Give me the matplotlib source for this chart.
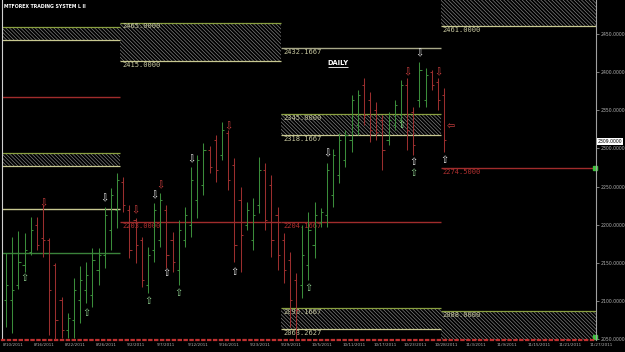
import matplotlib
matplotlib.use("Agg")
import matplotlib.pyplot as plt
from matplotlib.patches import Rectangle

# daily bars
highs = [2163, 2184, 2192, 2189, 2210, 2210, 2226, 2182, 2150, 2105,
         2084, 2130, 2146, 2151, 2169, 2169, 2223, 2248, 2268, 2262,
         2226, 2209, 2184, 2171, 2228, 2241, 2226, 2190, 2206, 2223,
         2276, 2291, 2307, 2303, 2318, 2335, 2324, 2287, 2249, 2230,
         2235, 2289, 2281, 2265, 2223, 2189, 2164, 2137, 2200, 2217,
         2230, 2222, 2281, 2299, 2320, 2324, 2370, 2377, 2392, 2374,
         2361, 2344, 2348, 2363, 2390, 2392, 2354, 2413, 2405, 2403,
         2392, 2379]
lows = [2066, 2058, 2116, 2138, 2160, 2167, 2158, 2055, 2049, 2051,
        2051, 2051, 2071, 2097, 2092, 2121, 2143, 2167, 2196, 2217,
        2156, 2150, 2118, 2110, 2151, 2171, 2143, 2138, 2121, 2171,
        2184, 2209, 2239, 2268, 2256, 2285, 2245, 2151, 2138, 2193,
        2167, 2215, 2193, 2158, 2140, 2123, 2066, 2049, 2104, 2127,
        2156, 2197, 2197, 2223, 2255, 2276, 2295, 2318, 2331, 2308,
        2311, 2272, 2304, 2324, 2328, 2298, 2291, 2354, 2354, 2377,
        2350, 2295]
opens = [2101, 2101, 2121, 2147, 2164, 2200, 2182, 2180, 2147, 2101,
         2062, 2075, 2101, 2114, 2108, 2140, 2160, 2193, 2219, 2256,
         2219, 2206, 2180, 2121, 2167, 2180, 2219, 2180, 2140, 2180,
         2200, 2232, 2252, 2298, 2311, 2291, 2320, 2278, 2232, 2200,
         2180, 2226, 2272, 2252, 2213, 2180, 2154, 2127, 2121, 2147,
         2173, 2203, 2213, 2239, 2265, 2285, 2311, 2331, 2383, 2363,
         2350, 2337, 2311, 2331, 2337, 2383, 2348, 2363, 2363, 2400,
         2387, 2370]
closes = [2121, 2114, 2151, 2167, 2193, 2173, 2180, 2114, 2075, 2062,
          2078, 2114, 2127, 2134, 2154, 2160, 2213, 2239, 2258, 2226,
          2167, 2173, 2127, 2160, 2219, 2232, 2160, 2151, 2193, 2213,
          2258, 2285, 2298, 2276, 2272, 2324, 2258, 2173, 2186, 2219,
          2213, 2272, 2206, 2180, 2160, 2140, 2101, 2088, 2160, 2193,
          2213, 2217, 2272, 2291, 2311, 2318, 2363, 2370, 2344, 2324,
          2321, 2298, 2337, 2357, 2383, 2324, 2304, 2403, 2396, 2383,
          2363, 2311]

date_labels = ["8/10/2011", "8/16/2011", "8/22/2011", "8/26/2011", "9/2/2011",
               "9/7/2011", "9/12/2011", "9/16/2011", "9/23/2011", "9/29/2011",
               "10/5/2011", "10/11/2011", "10/17/2011", "10/23/2011", "10/28/2011",
               "11/3/2011", "11/9/2011", "11/15/2011", "11/21/2011", "11/27/2011"]
price_ticks = [2050, 2100, 2150, 2200, 2250, 2300, 2350, 2400, 2450]
last_price = 2309

# weekly periods (bar index) and their levels
periods = [-0.65, 18.5, 44.6, 70.5, 95.7]
zones = [  # period, low, high, top label, bottom label
    (0, 2442, 2459, None, None),
    (0, 2277, 2294, None, None),
    (1, 2415, 2465, "2465.0000", "2415.0000"),
    (2, 2318, 2345, "2345.0000", "2318.1667"),
    (2, 2063, 2091, "2090.1667", "2063.2627"),
    (3, 2461, 2500, None, "2461.0000"),
    (3, 2040, 2087, "2088.0000", None),
]
lines = [  # period, level, colour, label
    (0, 2368, "#a02c2c", None),
    (0, 2220, "#c8c890", None),
    (0, 2163, "#3a823a", None),
    (1, 2203, "#a02c2c", "2203.0000"),
    (2, 2432, "#a8a888", "2432.1667"),
    (2, 2204, "#a02c2c", "2204.1667"),
    (3, 2274.5, "#a02c2c", "2274.5000"),
]

# signals: (bar, price)
down_white = [(16, 2235), (24, 2239), (30, 2286), (52, 2294), (67, 2425)]
up_white = [(26, 2137), (37, 2138), (66, 2282), (71, 2285)]
up_green = [(3, 2130), (13, 2084), (23, 2100), (28, 2110), (49, 2117), (66, 2268), (64, 2331)]
down_red = [(6, 2228), (21, 2219), (25, 2252), (36, 2329), (65, 2400), (70, 2400)]

plt.rcParams['hatch.linewidth'] = 0.45

fig = plt.figure(figsize=(6.25, 3.52), dpi=100, facecolor="black")
ax = fig.add_axes([2 / 625, 12 / 352, 594 / 625, 340 / 352], facecolor="black")
ax.set_xlim(-0.65, 95.6)
ax.set_ylim(2048.7, 2494.6)

# zones
for p, lo, hi, top_lab, bot_lab in zones:
    x0, x1 = periods[p], periods[p + 1]
    ax.add_patch(Rectangle((x0, lo), x1 - x0, hi - lo, facecolor="black",
                           edgecolor="#8a8a8a", hatch="\\" * 9, linewidth=0, zorder=1))
    ax.hlines(hi, x0, x1, color="#8aa040", lw=0.9, zorder=2)
    ax.hlines(lo, x0, x1, color="#c8c890", lw=0.9, zorder=2)
    if top_lab:
        ax.text(x0 + 0.3, hi - 1, top_lab, family="DejaVu Sans Mono", size=5.0,
                color="#c8c8a0", va="top", ha="left", zorder=3)
    if bot_lab:
        ax.text(x0 + 0.3, lo - 1.5, bot_lab, family="DejaVu Sans Mono", size=5.0,
                color="#c8c8a0", va="top", ha="left", zorder=3)

for p, lev, col, lab in lines:
    x0, x1 = periods[p], periods[p + 1]
    ax.hlines(lev, x0, x1, color=col, lw=1.0, zorder=2)
    if lab:
        tc = "#b03030" if col == "#a02c2c" else "#c8c8a0"
        ax.text(x0 + 0.3, lev - 1.5, lab, family="DejaVu Sans Mono", size=5.0,
                color=tc, va="top", ha="left", zorder=3)

# OHLC bars
for i in range(len(highs)):
    col = "#3a8c3a" if closes[i] >= opens[i] else "#9a2e2e"
    ax.vlines(i, lows[i], highs[i], color=col, lw=0.75, zorder=4)
    ax.hlines(opens[i], i - 0.35, i, color=col, lw=0.75, zorder=4)
    ax.hlines(closes[i], i, i + 0.35, color=col, lw=0.75, zorder=4)

# signal arrows
for x, y in down_white:
    ax.text(x, y, "\u21e9", color="#e8e8e8", size=7, ha="center", va="center", zorder=5)
for x, y in up_white:
    ax.text(x, y, "\u21e7", color="#e8e8e8", size=7, ha="center", va="center", zorder=5)
for x, y in up_green:
    ax.text(x, y, "\u21e7", color="#8fd08f", size=7, ha="center", va="center", zorder=5)
for x, y in down_red:
    ax.text(x, y, "\u21e9", color="#d04040", size=7, ha="center", va="center", zorder=5)
ax.text(72, 2329, "\u21e6", color="#d04040", size=7, ha="center", va="center", zorder=5)

# DAILY caption
ax.text(53.8, 2412, "DAILY", color="white", weight="bold", size=4.8,
        ha="center", va="center", zorder=5)
ax.hlines(2407.3, 52.2, 55.4, color="white", lw=0.6)

# axes styling
ax.spines["top"].set_visible(False)
ax.spines["left"].set_color("#d0d0d0")
ax.spines["left"].set_linewidth(0.8)
ax.spines["right"].set_color("#a0a0a0")
ax.spines["right"].set_linewidth(0.8)
ax.spines["bottom"].set_color("#c03030")
ax.spines["bottom"].set_linestyle(":")
ax.spines["bottom"].set_linewidth(1.6)

ax.yaxis.tick_right()
ax.set_yticks(price_ticks)
ax.set_yticklabels([f"{v}.0000" for v in price_ticks])
ax.tick_params(axis="y", labelsize=3.3, colors="#b0b0b0", length=2, width=0.5, pad=1.5)
ax.set_xticks([5 * k - 0.5 for k in range(len(date_labels))])
ax.set_xticklabels(date_labels, ha="left")
ax.tick_params(axis="x", labelsize=3.0, colors="#b0b0b0", length=0, pad=2.5)

# current price box and markers on the price scale
ax.text(1.003, last_price, f"{last_price}.0000", transform=ax.get_yaxis_transform(),
        size=3.3, color="black", va="center", ha="left",
        bbox=dict(facecolor="white", edgecolor="none", pad=0.6))
ax.plot([0.998], [2274.5], marker="s", ms=3, color="#40c040",
        transform=ax.get_yaxis_transform(), clip_on=False)
ax.plot([0.998], [2052], marker="s", ms=3, color="#40c040",
        transform=ax.get_yaxis_transform(), clip_on=False)

fig.text(4 / 625, 1 - 7 / 352, "MTFOREX TRADING SYSTEM L II", color="white",
         weight="bold", size=3.3, va="center", ha="left")

fig.savefig("out.png", dpi=100, facecolor="black")
